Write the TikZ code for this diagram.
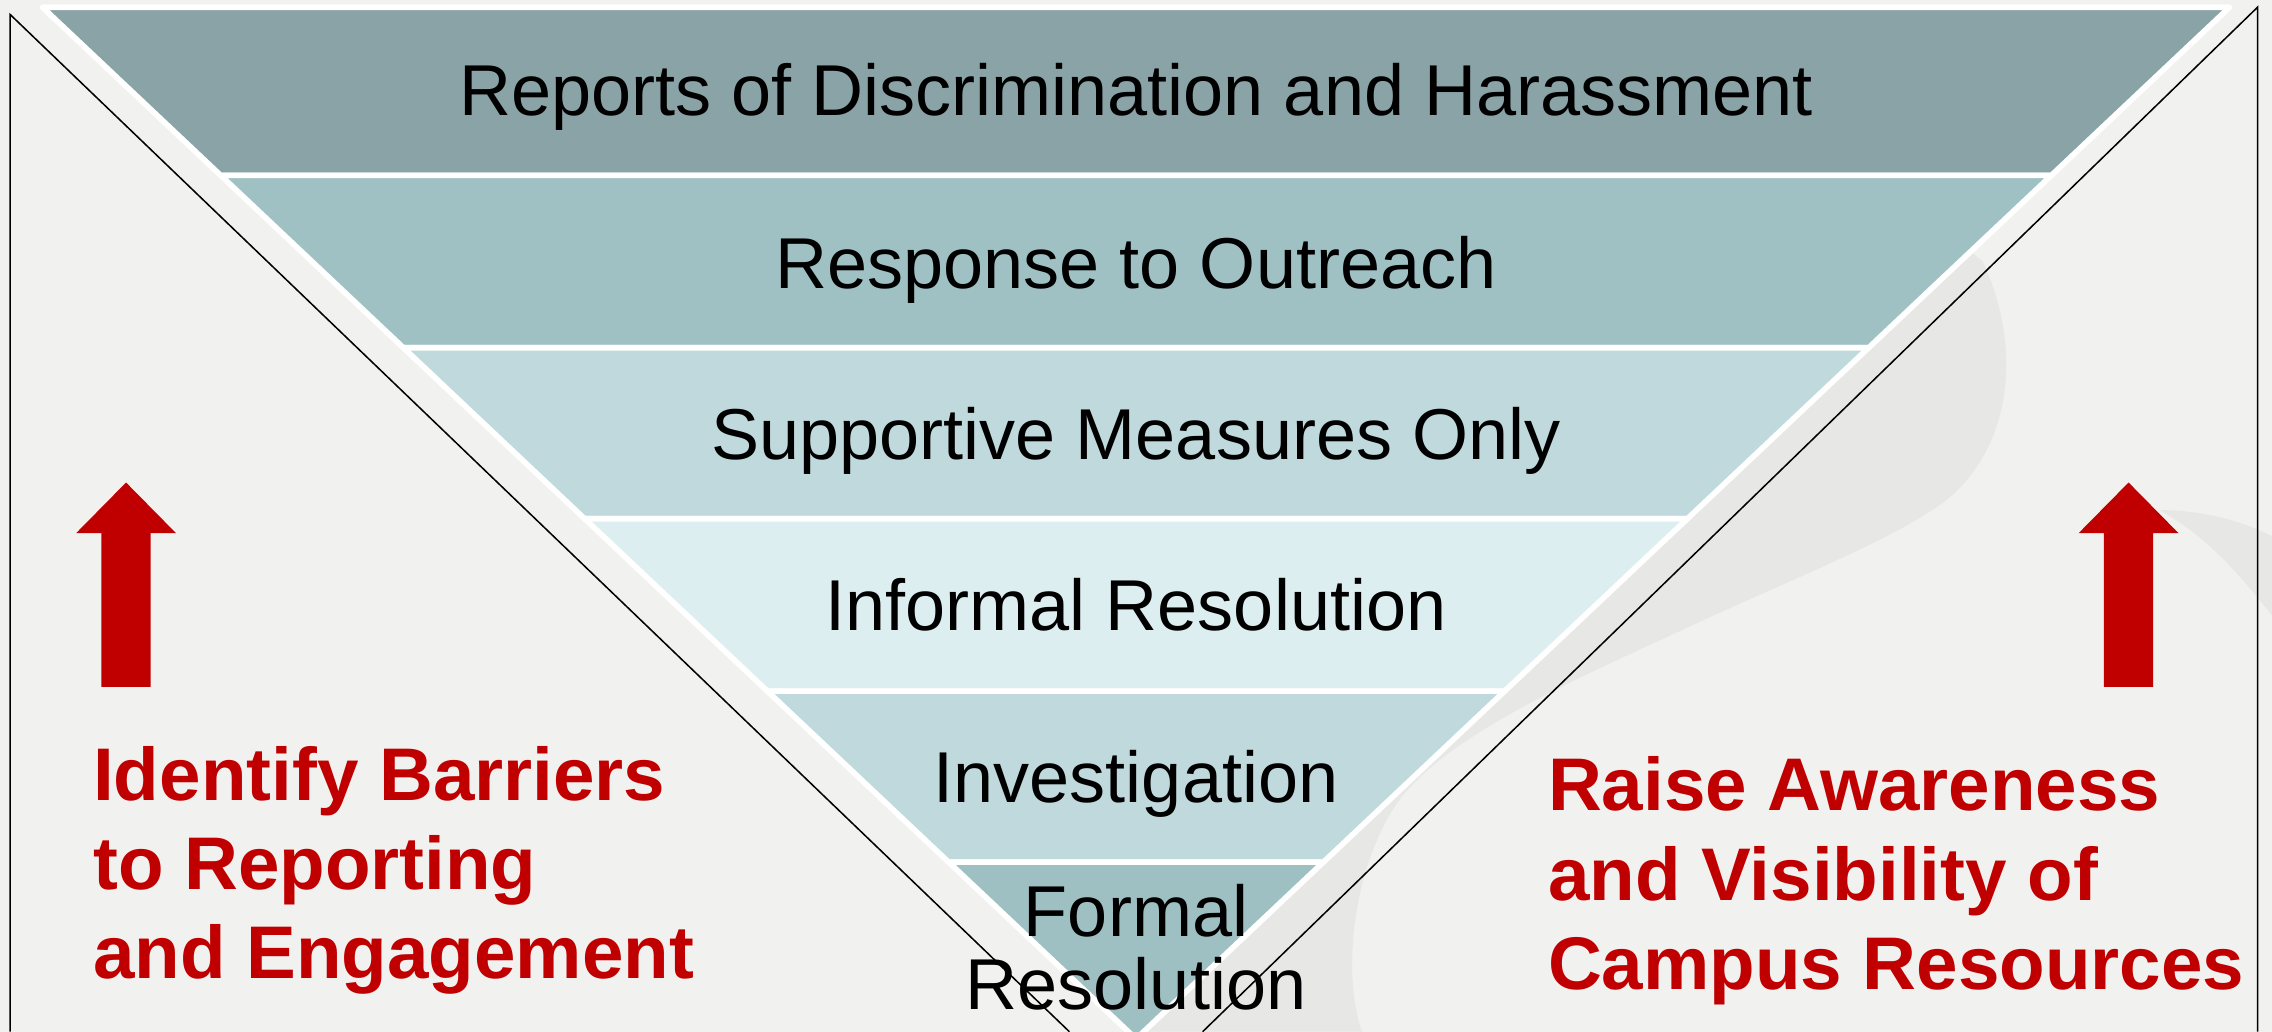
\documentclass[tikz,border=0pt]{standalone}
\usepackage{fontspec}
\setmainfont{Liberation Sans}
\usepackage{xcolor}
\usepackage{tikz}
\definecolor{bgGray}{HTML}{F1F1EF}
\definecolor{swirlGray}{HTML}{E7E7E5}
\definecolor{bandA}{HTML}{8AA3A7}
\definecolor{bandB}{HTML}{A0C1C4}
\definecolor{bandC}{HTML}{BFD9DC}
\definecolor{bandD}{HTML}{DDEEF0}
\definecolor{bandF}{HTML}{9FC0C3}
\definecolor{goalRed}{HTML}{C00000}

\begin{document}
\begin{tikzpicture}[x=0.02cm, y=-0.02cm,
    band/.style={draw=white, line width=2.2pt, line join=round},
    level/.style={font=\fontsize{28.3}{28.5}\selectfont, inner sep=0pt, align=center},
    goal/.style={font=\fontsize{29.3}{35}\selectfont\bfseries, text=goalRed, inner sep=0pt, align=left, anchor=north west}]
    \useasboundingbox (0,0) rectangle (1568,712);
    \fill[bgGray] (0,0) rectangle (1568,712);
    \clip (0,0) rectangle (1568,712);
    % background swirl
    \fill[swirlGray] (1330,150) -- (1368,180) .. controls (1392,230) and (1394,300) .. (1346,343)
        .. controls (1310,372) and (1230,402) .. (1154,438)
        .. controls (1080,472) and (990,512) .. (961,559)
        .. controls (930,610) and (928,680) .. (940,712) -- (784,712) -- cycle;
    \fill[swirlGray] (1490,352) .. controls (1525,352) and (1552,362) .. (1568,370) -- (1568,425)
        .. controls (1545,395) and (1520,368) .. (1490,352) -- cycle;
    % funnel
    \foreach \ya/\yb/\col in {5/121/bandA, 121/240/bandB, 240/358/bandC, 358/477/bandD, 477/595/bandC, 595/717/bandF}
        \filldraw[band, fill=\col] ({784-(717-\ya)*1.06},\ya) -- ({784+(717-\ya)*1.06},\ya)
            -- ({784+(717-\yb)*1.06},\yb) -- ({784-(717-\yb)*1.06},\yb) -- cycle;
    % side panels
    \draw[line width=0.6pt] (7,712) -- (7,10) -- (738,712);
    \draw[line width=0.6pt] (1558,712) -- (1558,5) -- (830,712);
    \foreach \ax in {87,1469}
        \fill[goalRed] (\ax,333) -- (\ax+34.5,368) -- (\ax+17,368) -- (\ax+17,474)
            -- (\ax-17,474) -- (\ax-17,368) -- (\ax-34.5,368) -- cycle;
    \node[level, anchor=base] (reports) at (784,80) {Reports of Discrimination and Harassment};
    \node[level, anchor=base] (outreach) at (784,199) {Response to Outreach};
    \node[level, anchor=base] (supportive) at (784,317) {Supportive Measures Only};
    \node[level, anchor=base] (informal) at (784,435) {Informal Resolution};
    \node[level, anchor=base] (investigation) at (784,554) {Investigation};
    \node[level, anchor=north] (formal) at (784,610) {Formal\\Resolution};
    \node[goal] (barriers) at (64,515) {Identify Barriers\\to Reporting\\and Engagement};
    \node[goal] (awareness) at (1068,522) {Raise Awareness\\and Visibility of\\Campus Resources};
\end{tikzpicture}
\end{document}
